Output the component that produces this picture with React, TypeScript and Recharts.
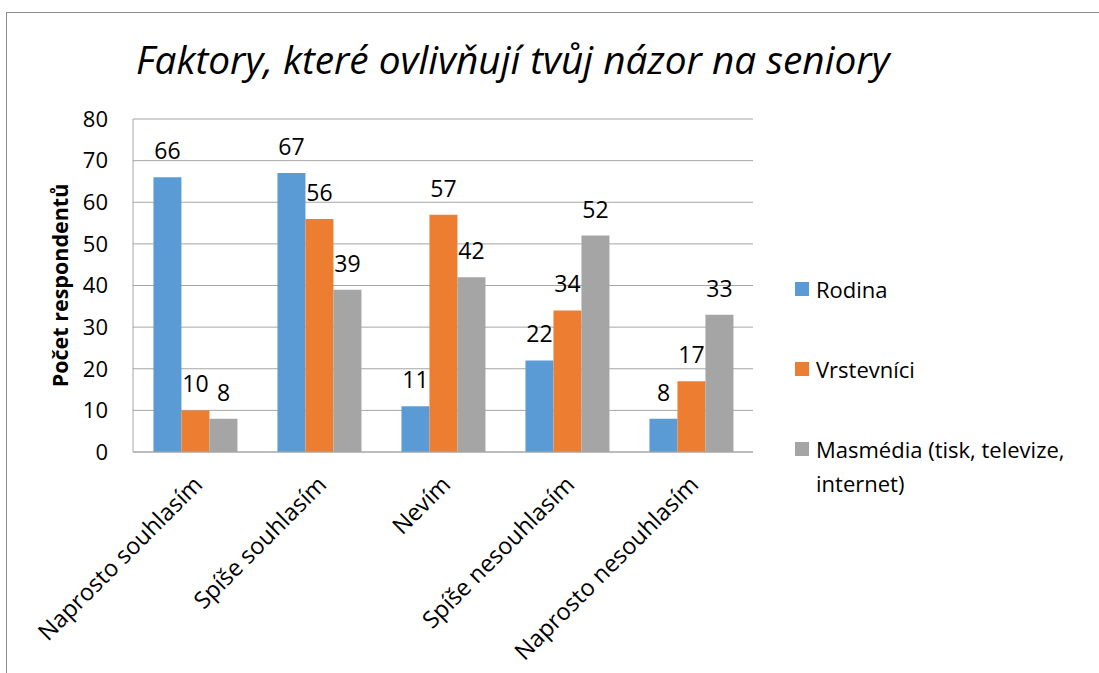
import React from 'react';
import { BarChart, Bar, XAxis, YAxis, CartesianGrid, Legend, LabelList, Label } from 'recharts';

// categories on the x axis
const categories = ['Naprosto souhlasím', 'Spíše souhlasím', 'Nevím', 'Spíše nesouhlasím', 'Naprosto nesouhlasím'];

// series values
const rodina = [66, 67, 11, 22, 8];
const vrstevnici = [10, 56, 57, 34, 17];
const masmedia = [8, 39, 42, 52, 33];

const yTicks = [0, 10, 20, 30, 40, 50, 60, 70, 80];

const series = [
  { key: 'rodina', name: 'Rodina', color: '#5B9BD5' },
  { key: 'vrstevnici', name: 'Vrstevníci', color: '#ED7D31' },
  { key: 'masmedia', name: 'Masmédia (tisk, televize, internet)', color: '#A5A5A5' },
];

const data = categories.map((c, i) => ({
  category: c,
  rodina: rodina[i],
  vrstevnici: vrstevnici[i],
  masmedia: masmedia[i],
}));

const FONT = '"Open Sans", sans-serif';

const XTick = (props: any) => {
  const { x, y, payload } = props;
  return (
    <g transform={`translate(${x + 9},${y + 26})`}>
      <text transform="rotate(-45)" textAnchor="end" fontFamily={FONT} fontSize={23.5} fill="#000">
        {payload.value}
      </text>
    </g>
  );
};

const LegendContent = () => (
  <div style={{ fontFamily: FONT, fontSize: 22, color: '#000', width: 280 }}>
    {series.map((s, i) => (
      <div key={s.key} style={{ display: 'flex', alignItems: 'flex-start', marginBottom: i < 2 ? 46 : 0, lineHeight: '34px' }}>
        <span style={{ display: 'inline-block', width: 14, height: 14, background: s.color, marginTop: 10, marginRight: 7, flexShrink: 0 }} />
        <span>{s.name}</span>
      </div>
    ))}
  </div>
);

export default function App() {
  return (
    <div style={{ position: 'absolute', left: 0, top: 0, width: 1099, height: 673, background: '#fff' }}>
      <div style={{ position: 'absolute', left: 6, top: 12, right: 0, bottom: 0, borderTop: '1px solid #8c8c8c', borderLeft: '1px solid #8c8c8c' }} />
      <div style={{ position: 'absolute', left: 136, top: 33, fontFamily: FONT, fontStyle: 'italic', fontSize: 38.8, color: '#000', whiteSpace: 'nowrap' }}>
        Faktory, které ovlivňují tvůj názor na seniory
      </div>
      <BarChart
        width={1099}
        height={673}
        data={data}
        margin={{ top: 119, right: 66, bottom: 191, left: 43 }}
        barCategoryGap="16.5%"
        barGap={0}
        style={{ position: 'absolute', left: 0, top: 0 }}
      >
        <CartesianGrid vertical={false} stroke="#a6a6a6" strokeWidth={1} />
        <XAxis
          dataKey="category"
          tick={<XTick />}
          tickLine={false}
          axisLine={{ stroke: '#a6a6a6' }}
          interval={0}
          height={30}
        />
        <YAxis
          width={90}
          domain={[0, 80]}
          ticks={yTicks}
          tickLine={false}
          tickSize={0}
          tickMargin={25}
          axisLine={{ stroke: '#a6a6a6' }}
          tick={{ fontFamily: FONT, fontSize: 22, fill: '#000' }}
        >
          <Label
            value="Počet respondentů"
            angle={-90}
            position="insideLeft"
            offset={17}
            style={{ textAnchor: 'middle', fontFamily: FONT, fontSize: 21.5, fontWeight: 'bold', fill: '#000' }}
          />
        </YAxis>
        <Legend
          layout="vertical"
          align="right"
          verticalAlign="top"
          content={<LegendContent />}
          wrapperStyle={{ left: 795, top: 272, width: 280 }}
        />
        {series.map((s) => (
          <Bar key={s.key} dataKey={s.key} name={s.name} fill={s.color} isAnimationActive={false}>
            <LabelList dataKey={s.key} position="top" offset={18} style={{ fontFamily: FONT, fontSize: 23, fill: '#000' }} />
          </Bar>
        ))}
      </BarChart>
    </div>
  );
}
